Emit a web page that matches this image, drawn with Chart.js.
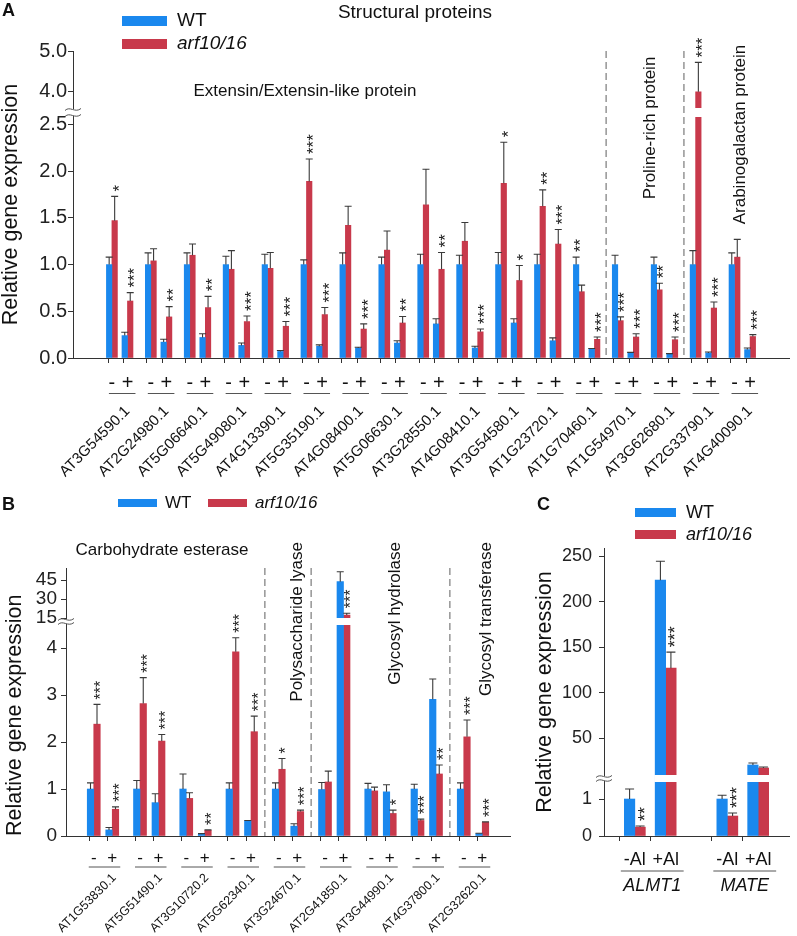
<!DOCTYPE html>
<html><head><meta charset="utf-8">
<script src="https://cdn.jsdelivr.net/npm/chart.js@4/dist/chart.umd.min.js"></script>
<style>
html,body{margin:0;padding:0;background:#fff;}
#wrap{position:relative;width:797px;height:936px;overflow:hidden;background:#fff;}
canvas{position:absolute;}
</style></head><body>
<div id="wrap">
<canvas id="cA" width="797" height="480" style="left:0px;top:0px"></canvas>
<canvas id="cB" width="525" height="456" style="left:0px;top:480px"></canvas>
<canvas id="cC" width="277" height="456" style="left:520px;top:480px"></canvas>
</div>
<script>
// ================= DATA =================
const seriesLabels = ['WT', 'arf10/16'];
const yTitle = 'Relative gene expression';

// ---- Panel A : structural proteins ----
const genesA = ['AT3G54590.1','AT2G24980.1','AT5G06640.1','AT5G49080.1','AT4G13390.1','AT5G35190.1','AT4G08400.1','AT5G06630.1','AT3G28550.1','AT4G08410.1','AT3G54580.1','AT1G23720.1','AT1G70460.1','AT1G54970.1','AT3G62680.1','AT2G33790.1','AT4G40090.1'];
const treatA = ['-', '+'];
const wtMinusA   = [1.00,1.00,1.00,1.00,1.00,1.00,1.00,1.00,1.00,1.00,1.00,1.00,1.00,1.00,1.00,1.00,1.00];
const wtMinusSeA = [0.08,0.125,0.125,0.09,0.11,0.05,0.125,0.08,0.11,0.10,0.13,0.11,0.08,0.10,0.08,0.15,0.125];
const arfMinusA  = [1.47,1.04,1.10,0.95,0.96,1.89,1.42,1.155,1.64,1.25,1.87,1.625,0.71,0.40,0.73,4.00,1.08];
const arfMinusSeA= [0.26,0.13,0.12,0.20,0.17,0.24,0.205,0.205,0.38,0.20,0.44,0.175,0.07,0.04,0.07,0.72,0.19];
const wtPlusA    = [0.24,0.17,0.22,0.135,0.07,0.125,0.107,0.16,0.365,0.107,0.375,0.185,0.096,0.054,0.043,0.054,0.09];
const wtPlusSeA  = [0.035,0.03,0.04,0.025,0.01,0.015,0.008,0.025,0.055,0.018,0.045,0.03,0.006,0.006,0.004,0.011,0.017];
const arfPlusA   = [0.61,0.44,0.54,0.39,0.34,0.465,0.31,0.375,0.95,0.28,0.83,1.22,0.20,0.225,0.196,0.535,0.23];
const arfPlusSeA = [0.09,0.11,0.12,0.06,0.05,0.075,0.055,0.07,0.18,0.03,0.16,0.155,0.025,0.035,0.029,0.065,0.02];
const starsWtMinusA  = [0,0,0,0,0,0,0,0,0,0,0,0,2,0,0,0,0];
const starsArfMinusA = [1,0,0,0,0,3,0,0,0,0,1,2,0,3,2,3,0];
const starsWtPlusA   = [0,0,0,0,0,0,0,0,0,0,0,0,0,0,0,0,0];
const starsArfPlusA  = [3,2,2,3,3,3,3,2,2,3,1,3,3,3,3,3,3];
const yTicksA = [0, 0.5, 1.0, 1.5, 2.0, 2.5, 4.0, 5.0];

// ---- Panel B : cell-wall enzymes ----
const genesB = ['AT1G53830.1','AT5G51490.1','AT3G10720.2','AT5G62340.1','AT3G24670.1','AT2G41850.1','AT3G44990.1','AT4G37800.1','AT2G32620.1'];
const treatB = ['-', '+'];
const wtMinusB   = [1.00,1.00,1.00,1.00,1.00,0.99,1.00,1.00,1.00];
const wtMinusSeB = [0.13,0.18,0.32,0.13,0.13,0.15,0.12,0.10,0.13];
const arfMinusB  = [2.38,2.82,0.80,3.92,1.42,1.15,0.96,0.33,2.11];
const arfMinusSeB= [0.42,0.55,0.12,0.30,0.23,0.23,0.08,0.03,0.36];
const wtPlusB    = [0.13,0.71,0.04,0.32,0.21,43.7,0.94,2.91,0.05];
const wtPlusSeB  = [0.05,0.19,0.01,0.01,0.05,7.8,0.15,0.43,0.01];
const arfPlusB   = [0.57,2.02,0.12,2.22,0.52,17.4,0.48,1.32,0.29];
const arfPlusSeB = [0.05,0.14,0.01,0.33,0.03,1.3,0.07,0.19,0.01];
const starsWtMinusB  = [0,0,0,0,0,0,0,0,0];
const starsArfMinusB = [3,3,0,3,1,0,0,3,3];
const starsWtPlusB   = [0,0,0,0,0,0,0,0,0];
const starsArfPlusB  = [3,3,2,3,3,3,1,2,3];
const yTicksB = [0, 1, 2, 3, 4, 15, 30, 45];

// ---- Panel C : Al transporters ----
const genesC = ['ALMT1', 'MATE'];
const treatC = ['-Al', '+Al'];
const wtMinusC   = [1.00, 1.00];
const wtMinusSeC = [0.27, 0.10];
const arfMinusC  = [0.24, 0.54];
const arfMinusSeC= [0.03, 0.08];
const wtPlusC    = [223.7, 20.7];
const wtPlusSeC  = [20.8, 2.2];
const arfPlusC   = [127.0, 17.4];
const arfPlusSeC = [17.6, 1.1];
const starsWtMinusC  = [0, 0];
const starsArfMinusC = [2, 3];
const starsWtPlusC   = [0, 0];
const starsArfPlusC  = [3, 0];
const yTicksC = [0, 1, 50, 100, 150, 200, 250];

// ================= STYLE / LIBRARY SETUP =================
const BLUE = '#1a88ee', RED = '#c8394b';
const FONT = '"Liberation Sans", Arial, Helvetica, sans-serif';
Chart.defaults.font.family = FONT;
Chart.defaults.color = '#222';
Chart.defaults.animation = false;

class BrokenLinearScale extends Chart.LinearScale {
  static id = 'brokenLinear';
  static defaults = Chart.LinearScale.defaults;
  _pcs() { return (this.options.pieces || []).map(p => ({from: +p.from, to: +p.to, size: +p.size})); }
  getPixelForValue(value) {
    const pcs = this._pcs();
    const total = pcs.reduce((s, p) => s + p.size, 0);
    let acc = 0;
    for (let i = 0; i < pcs.length; i++) {
      const p = pcs[i];
      if (value <= p.to || i === pcs.length - 1) {
        const frac = (acc + (value - p.from) / (p.to - p.from) * p.size) / total;
        return this.bottom - frac * (this.bottom - this.top);
      }
      acc += p.size;
    }
    return this.bottom;
  }
  getValueForPixel(pixel) {
    const pcs = this._pcs();
    const total = pcs.reduce((s, p) => s + p.size, 0);
    const f = (this.bottom - pixel) / (this.bottom - this.top) * total;
    let acc = 0;
    for (let i = 0; i < pcs.length; i++) {
      const p = pcs[i];
      if (f <= acc + p.size || i === pcs.length - 1) return p.from + (f - acc) / p.size * (p.to - p.from);
      acc += p.size;
    }
    return 0;
  }
}
Chart.register(BrokenLinearScale);

function buildSlots(nGroups, lead, inner, between, trail, treat) {
  const labels = [], minusIdx = [], plusIdx = [];
  for (let i = 0; i < lead; i++) labels.push('');
  for (let g = 0; g < nGroups; g++) {
    if (g > 0) for (let i = 0; i < between; i++) labels.push('');
    minusIdx.push(labels.length); labels.push(treat[0]);
    for (let i = 0; i < inner; i++) labels.push('');
    plusIdx.push(labels.length); labels.push(treat[1]);
  }
  for (let i = 0; i < trail; i++) labels.push('');
  return {labels, minusIdx, plusIdx};
}
function place(S, mv, pv) {
  const arr = S.labels.map(() => null);
  S.minusIdx.forEach((ix, k) => { arr[ix] = mv[k]; });
  S.plusIdx.forEach((ix, k) => { arr[ix] = pv[k]; });
  return arr;
}
function txt(ctx, s, x, y, o) {
  ctx.save();
  ctx.font = (o.style || '') + ' ' + (o.weight || '') + ' ' + o.size + 'px ' + FONT;
  ctx.fillStyle = o.color || '#111';
  ctx.textAlign = o.align || 'center';
  ctx.textBaseline = o.base || 'middle';
  ctx.translate(x, y);
  if (o.rot) ctx.rotate(o.rot);
  ctx.fillText(s, 0, 0);
  ctx.restore();
}
function drawStars(ctx, x, yBottom, n, fs) {
  ctx.save();
  ctx.translate(x, yBottom);
  ctx.rotate(-Math.PI / 2);
  ctx.font = fs + 'px ' + FONT;
  ctx.fillStyle = '#222';
  ctx.textAlign = 'left';
  ctx.textBaseline = 'alphabetic';
  ctx.fillText('*'.repeat(n), 0, 0.58 * fs);
  ctx.restore();
}

function makeDecor(P, S) {
  return {
    id: 'decor' + P.id,
    afterDatasetsDraw(chart) {
      const ctx = chart.ctx, y = chart.scales.y;
      const gap = P.pieces[1];
      const gTop = y.getPixelForValue(gap.to), gBot = y.getPixelForValue(gap.from);
      ctx.save();
      chart.data.datasets.forEach((ds, di) => {
        chart.getDatasetMeta(di).data.forEach((el, i) => {
          const v = ds.data[i];
          if (v === null || v === undefined) return;
          if (v > gap.to) { ctx.fillStyle = '#fff'; ctx.fillRect(el.x - el.width / 2 - 1, gTop, el.width + 2, gBot - gTop); }
        });
      });
      chart.data.datasets.forEach((ds, di) => {
        chart.getDatasetMeta(di).data.forEach((el, i) => {
          const v = ds.data[i];
          if (v === null || v === undefined) return;
          const yt = y.getPixelForValue(v + ds.errors[i]);
          ctx.strokeStyle = P.errColor; ctx.lineWidth = 1.1;
          ctx.beginPath();
          ctx.moveTo(el.x, el.y); ctx.lineTo(el.x, yt);
          ctx.moveTo(el.x - P.cap / 2, yt); ctx.lineTo(el.x + P.cap / 2, yt);
          ctx.stroke();
          if (ds.stars[i]) drawStars(ctx, el.x, yt - P.starGap, ds.stars[i], P.starFont);
        });
      });
      ctx.restore();
    },
    afterDraw(chart) {
      const ctx = chart.ctx, x = chart.scales.x, y = chart.scales.y, ca = chart.chartArea;
      const X = v => v - P.ox, Y = v => v - P.oy;
      ctx.save();
      // dashed separators between protein classes
      ctx.strokeStyle = '#7a7a7a'; ctx.lineWidth = 1.2; ctx.setLineDash([7, 4]);
      P.sepAfter.forEach(g => {
        const xp = (x.getPixelForValue(S.plusIdx[g]) + x.getPixelForValue(S.minusIdx[g + 1])) / 2;
        ctx.beginPath(); ctx.moveTo(xp, ca.top); ctx.lineTo(xp, ca.bottom); ctx.stroke();
      });
      ctx.setLineDash([]);
      // axis break symbol
      const gap = P.pieces[1];
      const gTop = y.getPixelForValue(gap.to), gBot = y.getPixelForValue(gap.from);
      const xa = ca.left;
      ctx.fillStyle = '#fff'; ctx.fillRect(xa - 2, gTop + 1, 4, gBot - gTop - 2);
      ctx.strokeStyle = '#555'; ctx.lineWidth = 1;
      [gTop + 1.5, gBot - 1.5].forEach(yy => {
        ctx.beginPath(); ctx.moveTo(xa - 8, yy + 1);
        ctx.bezierCurveTo(xa - 3, yy - 4, xa + 2, yy + 4, xa + 8, yy - 1);
        ctx.stroke();
      });
      // underlines and gene names
      ctx.strokeStyle = '#555'; ctx.lineWidth = 1;
      P.genes.forEach((g, k) => {
        const xm = x.getPixelForValue(S.minusIdx[k]), xp = x.getPixelForValue(S.plusIdx[k]);
        ctx.beginPath(); ctx.moveTo(xm + P.ul.l, Y(P.ul.y)); ctx.lineTo(xp + P.ul.r, Y(P.ul.y)); ctx.stroke();
        if (P.geneRot) {
          txt(ctx, g, xp + P.geneDx, Y(P.geneY), {size: P.geneFont, align: 'right', rot: -Math.PI / 4, color: '#111'});
        } else {
          txt(ctx, g, (xm + xp) / 2 + P.geneDx, Y(P.geneY), {size: P.geneFont, style: 'italic', color: '#111'});
        }
      });
      // legend
      P.legend.forEach((L, i) => {
        const ds = chart.data.datasets[i];
        ctx.fillStyle = ds.backgroundColor;
        ctx.fillRect(X(L.bx), Y(L.by), L.bw, L.bh);
        txt(ctx, ds.label, X(L.tx), Y(L.ty), {size: L.size, align: 'left', style: i === 1 ? 'italic' : '', color: '#111'});
      });
      // annotations
      P.texts.forEach(t => txt(ctx, t.t, X(t.x), Y(t.y), t));
      ctx.restore();
    }
  };
}

function makeChart(P, genes, treat, vals) {
  const S = buildSlots(genes.length, P.lead, P.inner, P.between, P.trail, treat);
  P.genes = genes;
  const mk = (label, color, mv, pv, ms, ps, sm, sp) => ({
    label, backgroundColor: color, borderWidth: 0, barThickness: P.barW,
    data: place(S, mv, pv), errors: place(S, ms, ps), stars: place(S, sm, sp)
  });
  const tickCol = c => (c.tick && c.tick.label) ? '#333' : 'rgba(0,0,0,0)';
  return new Chart(document.getElementById(P.canvas), {
    type: 'bar',
    data: {
      labels: S.labels,
      datasets: [
        mk(seriesLabels[0], BLUE, vals.wm, vals.wp, vals.wms, vals.wps, vals.swm, vals.swp),
        mk(seriesLabels[1], RED, vals.am, vals.ap, vals.ams, vals.aps, vals.sam, vals.sap)
      ]
    },
    options: {
      responsive: false, animation: false, events: [],
      layout: {padding: {left: 0, top: P.padTop, right: P.padRight, bottom: 0}},
      plugins: {legend: {display: false}, tooltip: {enabled: false}, title: {display: false}},
      scales: {
        x: {
          type: 'category', offset: false,
          grid: {display: true, drawOnChartArea: false, drawTicks: true, tickLength: 5, lineWidth: 1, color: tickCol, tickColor: tickCol},
          border: {display: true, color: '#333', width: 1},
          ticks: {autoSkip: false, maxRotation: 0, minRotation: 0, padding: P.xPad, font: {size: P.xFont}, color: '#111'},
          afterFit: s => { s.height = P.xAxisH; }
        },
        y: {
          type: 'brokenLinear', min: P.pieces[0].from, max: P.pieces[P.pieces.length - 1].to, pieces: P.pieces,
          afterBuildTicks: s => { s.ticks = P.yTicks.map(v => ({value: v})); },
          ticks: {callback: P.fmt, font: {size: P.yFont}, padding: P.yPad, color: '#222'},
          grid: {display: true, drawOnChartArea: false, drawTicks: true, tickLength: 5, color: '#333'},
          border: {display: true, color: '#333', width: 1},
          title: {display: true, text: yTitle, font: {size: 21.5, lineHeight: 1}, padding: {top: P.titlePad, bottom: 0}, align: P.titleAlign, color: '#111'},
          afterFit: s => { s.width = P.yAxisW; }
        }
      }
    },
    plugins: [makeDecor(P, S)]
  });
}

// ---------- Panel A ----------
makeChart({
  id: 'A', canvas: 'cA', ox: 0, oy: 0,
  lead: 5, inner: 1, between: 2, trail: 5,
  barW: 5.5, cap: 7, starFont: 17, starGap: 5, errColor: '#3a3a3a',
  pieces: [{from: 0, to: 2.58, size: 241}, {from: 2.58, to: 3.6, size: 9}, {from: 3.6, to: 5.0, size: 57}],
  yTicks: yTicksA, fmt: v => Number(v).toFixed(1),
  yFont: 20, yPad: 1, xFont: 20, xPad: 8,
  padTop: 51, padRight: 6, yAxisW: 73, xAxisH: 122,
  titlePad: 0, titleAlign: 'center',
  sepAfter: [12, 14],
  ul: {y: 393.5, l: -3, r: 8}, geneRot: true, geneFont: 15, geneDx: 0, geneY: 409,
  legend: [
    {bx: 122, by: 16, bw: 45, bh: 10, tx: 177, ty: 21, size: 19},
    {bx: 122, by: 39, bw: 45, bh: 10, tx: 177, ty: 44, size: 19}
  ],
  texts: [
    {t: 'A', x: 2, y: 11, size: 18, weight: 'bold', align: 'left'},
    {t: 'Structural proteins', x: 415, y: 13, size: 19},
    {t: 'Extensin/Extensin-like protein', x: 305, y: 91, size: 17},
    {t: 'Proline-rich protein', x: 650, y: 128, size: 17, rot: -Math.PI / 2},
    {t: 'Arabinogalactan protein', x: 740, y: 134.5, size: 17, rot: -Math.PI / 2}
  ]
}, genesA, treatA, {wm: wtMinusA, wp: wtPlusA, wms: wtMinusSeA, wps: wtPlusSeA, swm: starsWtMinusA, swp: starsWtPlusA,
  am: arfMinusA, ap: arfPlusA, ams: arfMinusSeA, aps: arfPlusSeA, sam: starsArfMinusA, sap: starsArfPlusA});

// ---------- Panel B ----------
makeChart({
  id: 'B', canvas: 'cB', ox: 0, oy: 480,
  lead: 3, inner: 1, between: 2, trail: 3,
  barW: 6.5, cap: 7, starFont: 16, starGap: 5, errColor: '#3a3a3a',
  pieces: [{from: 0, to: 4.49, size: 211}, {from: 4.49, to: 15, size: 7}, {from: 15, to: 54.5, size: 50}],
  yTicks: yTicksB, fmt: v => String(v),
  yFont: 19, yPad: 4, xFont: 17, xPad: 7,
  padTop: 88, padRight: 15, yAxisW: 66, xAxisH: 100,
  titlePad: 4, titleAlign: 'start',
  sepAfter: [3, 4, 7],
  ul: {y: 867, l: -5, r: 8}, geneRot: true, geneFont: 12.5, geneDx: 2, geneY: 876,
  legend: [
    {bx: 118, by: 499, bw: 39, bh: 8, tx: 165, ty: 503, size: 17},
    {bx: 208, by: 499, bw: 39, bh: 8, tx: 255, ty: 503, size: 17}
  ],
  texts: [
    {t: 'B', x: 2, y: 505, size: 18, weight: 'bold', align: 'left'},
    {t: 'Carbohydrate esterase', x: 162, y: 550, size: 17},
    {t: 'Polysaccharide lyase', x: 297, y: 542, size: 17, rot: -Math.PI / 2, align: 'right'},
    {t: 'Glycosyl hydrolase', x: 395, y: 542, size: 17, rot: -Math.PI / 2, align: 'right'},
    {t: 'Glycosyl transferase', x: 486, y: 542, size: 17, rot: -Math.PI / 2, align: 'right'}
  ]
}, genesB, treatB, {wm: wtMinusB, wp: wtPlusB, wms: wtMinusSeB, wps: wtPlusSeB, swm: starsWtMinusB, swp: starsWtPlusB,
  am: arfMinusB, ap: arfPlusB, ams: arfMinusSeB, aps: arfPlusSeB, sam: starsArfMinusB, sap: starsArfPlusB});

// ---------- Panel C ----------
makeChart({
  id: 'C', canvas: 'cC', ox: 520, oy: 480,
  lead: 1, inner: 0, between: 1, trail: 1,
  barW: 10.5, cap: 9, starFont: 18, starGap: 5, errColor: '#3a3a3a',
  pieces: [{from: 0, to: 1.46, size: 54}, {from: 1.46, to: 9.7, size: 7}, {from: 9.7, to: 259, size: 227}],
  yTicks: yTicksC, fmt: v => String(v),
  yFont: 18, yPad: 7, xFont: 18, xPad: 8,
  padTop: 68, padRight: 1, yAxisW: 84, xAxisH: 100,
  titlePad: 14, titleAlign: 'center',
  sepAfter: [],
  ul: {y: 871, l: -14, r: 18}, geneRot: false, geneFont: 18, geneDx: 2, geneY: 886,
  legend: [
    {bx: 635, by: 508, bw: 41, bh: 9, tx: 686, ty: 513, size: 18},
    {bx: 635, by: 530, bw: 41, bh: 9, tx: 686, ty: 535, size: 18}
  ],
  texts: [
    {t: 'C', x: 537, y: 505, size: 18, weight: 'bold', align: 'left'}
  ]
}, genesC, treatC, {wm: wtMinusC, wp: wtPlusC, wms: wtMinusSeC, wps: wtPlusSeC, swm: starsWtMinusC, swp: starsWtPlusC,
  am: arfMinusC, ap: arfPlusC, ams: arfMinusSeC, aps: arfPlusSeC, sam: starsArfMinusC, sap: starsArfPlusC});
</script>
</body></html>
